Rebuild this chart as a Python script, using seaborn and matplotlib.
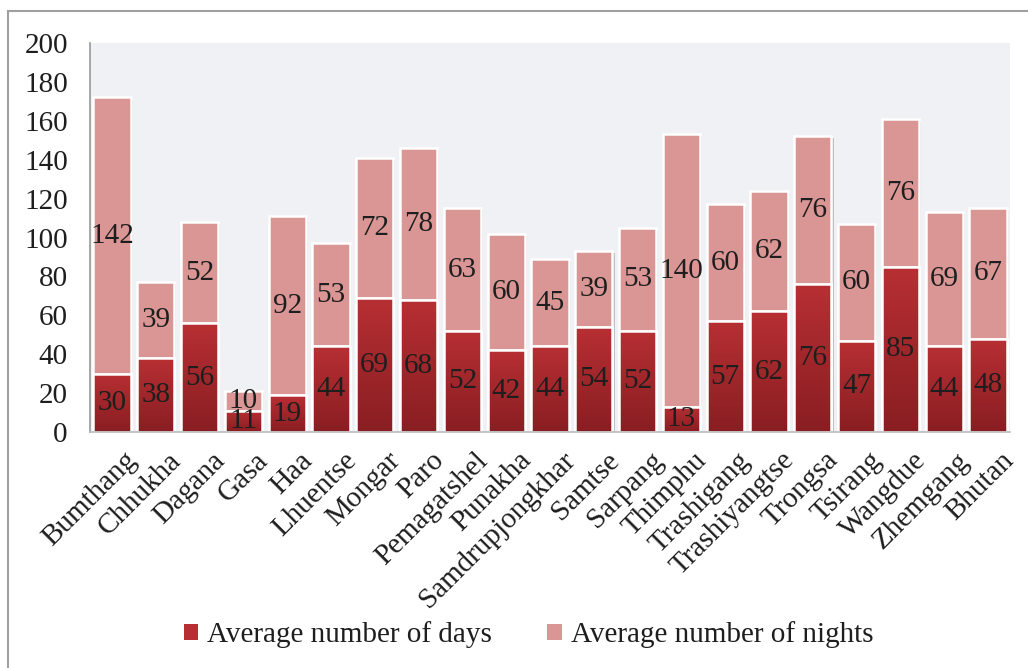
import numpy as np
import pandas as pd
import matplotlib
matplotlib.use("Agg")
import matplotlib.pyplot as plt
import matplotlib.patheffects as pe
from matplotlib.patches import Patch, Rectangle
from matplotlib.colors import LinearSegmentedColormap
from matplotlib.transforms import ScaledTranslation
import seaborn as sns

districts = ["Bumthang", "Chhukha", "Dagana", "Gasa", "Haa", "Lhuentse", "Mongar", "Paro",
             "Pemagatshel", "Punakha", "Samdrupjongkhar", "Samtse", "Sarpang", "Thimphu",
             "Trashigang", "Trashiyangtse", "Trongsa", "Tsirang", "Wangdue", "Zhemgang", "Bhutan"]
days = [30, 38, 56, 11, 19, 44, 69, 68, 52, 42, 44, 54, 52, 13, 57, 62, 76, 47, 85, 44, 48]
nights = [142, 39, 52, 10, 92, 53, 72, 78, 63, 60, 45, 39, 53, 140, 60, 62, 76, 60, 76, 69, 67]
yticks = list(range(0, 201, 20))

df = pd.DataFrame({"district": districts, "days": days, "nights": nights})
df["total"] = df["days"] + df["nights"]

sns.set_theme(style="white")
plt.rcParams["font.family"] = ["Liberation Serif", "DejaVu Serif"]

RED_TOP = "#B72F33"
RED_BOT = "#891E22"
PINK = "#D99694"
TXT = "#1E1E1E"
FS = 21

fig = plt.figure(figsize=(10.28, 6.68), dpi=100)
ax = fig.add_axes([90/1028, 1-432/668, 920/1028, (432-43)/668])
ax.set_facecolor("#F0F1F4")

shadow = [pe.SimplePatchShadow(offset=(1.5, -1.5), shadow_rgbFace="#888888", alpha=0.45), pe.Normal()]

sns.barplot(data=df, x="district", y="total", color=PINK, saturation=1, width=0.85,
            edgecolor="white", linewidth=1.8, ax=ax)
n = len(districts)
for p in ax.patches[:n]:
    p.set_path_effects(shadow)
sns.barplot(data=df, x="district", y="days", color=RED_TOP, saturation=1, width=0.85,
            edgecolor="white", linewidth=1.8, ax=ax)

cmap = LinearSegmentedColormap.from_list("g", [RED_BOT, RED_TOP])
grad = np.linspace(0, 1, 64).reshape(-1, 1)
for p in ax.patches[n:2*n]:
    x0, y0 = p.get_x(), p.get_y()
    w, h = p.get_width(), p.get_height()
    im = ax.imshow(grad, cmap=cmap, origin="lower", aspect="auto",
                   extent=[x0, x0 + w, y0, y0 + h], zorder=p.get_zorder() + 0.1)
    im.set_clip_path(p)
    edge = Rectangle((x0, y0), w, h, fill=False, edgecolor="white", linewidth=1.8,
                     zorder=p.get_zorder() + 0.2)
    ax.add_patch(edge)

for i, (d, nt) in enumerate(zip(days, nights)):
    ax.text(i, d / 2, str(d), ha="center", va="center", fontsize=FS, color=TXT, zorder=10)
    ax.text(i, d + nt / 2, str(nt), ha="center", va="center", fontsize=FS, color=TXT, zorder=10)

ax.set_xlim(-0.5, n - 0.5)
ax.set_ylim(0, 200)
ax.set_yticks(yticks)
ax.set_yticklabels([str(v) for v in yticks], fontsize=FS, color=TXT)
ax.tick_params(axis="y", length=0, pad=16)
ax.set_xticks(range(n))
ax.set_xticklabels(districts, rotation=45, ha="right", va="top", rotation_mode="anchor",
                   fontsize=FS, color=TXT)
ax.tick_params(axis="x", length=0, pad=11)
off = ScaledTranslation(12/100, 0, fig.dpi_scale_trans)
for lab in ax.get_xticklabels():
    lab.set_transform(lab.get_transform() + off)
ax.set_xlabel("")
ax.set_ylabel("")
for s in ["top", "right"]:
    ax.spines[s].set_visible(False)
ax.spines["left"].set_color("#999999")
ax.spines["left"].set_linewidth(1.2)
ax.spines["bottom"].set_color("#BBBBBB")
ax.spines["bottom"].set_linewidth(1.2)

handles = [Patch(facecolor=RED_TOP, edgecolor="none", label="Average number of days"),
           Patch(facecolor=PINK, edgecolor="none", label="Average number of nights")]
fig.legend(handles=handles, loc="center", bbox_to_anchor=(0.514, 1 - 635/668), ncol=2,
           frameon=False, fontsize=FS, handlelength=0.5, handleheight=0.5,
           handletextpad=0.3, columnspacing=1.9, labelcolor=TXT)

frame = Rectangle((8/1028, -0.05), 1.1, 1 - 11/668 + 0.05, transform=fig.transFigure,
                  fill=False, edgecolor="#A0A0A0", linewidth=1.5, clip_on=False)
fig.patches.append(frame)

fig.savefig("out.png", dpi=100, facecolor="white")
